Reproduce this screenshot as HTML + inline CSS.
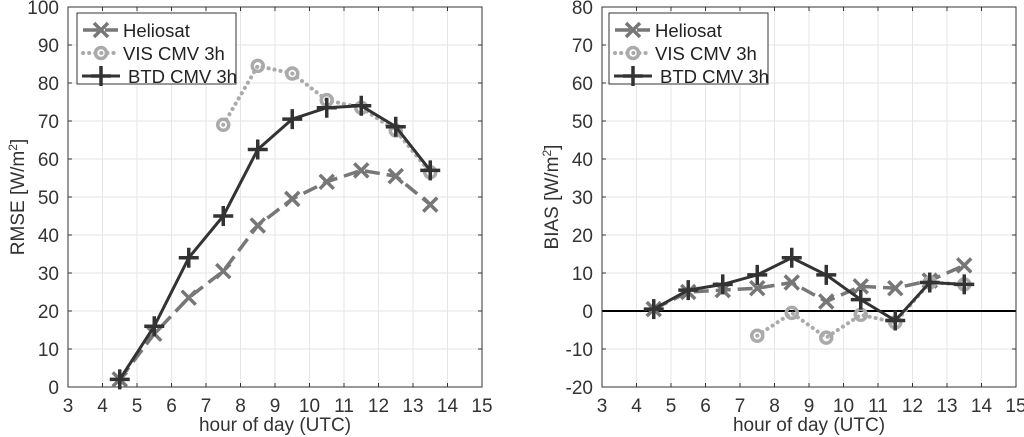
<!DOCTYPE html>
<html><head><meta charset="utf-8"><style>
html,body{margin:0;padding:0;background:#fff;}
svg{display:block;font-family:"Liberation Sans",Arial,sans-serif;}
</style></head><body>
<svg id="c" width="1024" height="437"></svg>
<script>
const hours=[4.5,5.5,6.5,7.5,8.5,9.5,10.5,11.5,12.5,13.5];
const visHours=[7.5,8.5,9.5,10.5,11.5,12.5,13.5];
const rmseHelio=[2,14,23.5,30.5,42.5,49.5,54,57,55.5,48];
const rmseVis=[69,84.5,82.5,75.5,73.5,67.5,56.5];
const rmseBtd=[2,16,34,45,62.5,70.5,73.5,74,68.5,57];
const biasHelio=[0.5,5,5.5,6,7.5,2.5,6.5,6,8,12];
const biasVis=[-6.5,-0.5,-7,-1,-3,7.5,7];
const biasBtd=[0.5,5.5,7,9.5,14,9.5,3,-2.5,7.5,7];
const xTicks=[3,4,5,6,7,8,9,10,11,12,13,14,15];
const rmseTicks=[0,10,20,30,40,50,60,70,80,90,100];
const biasTicks=[-20,-10,0,10,20,30,40,50,60,70,80];

const NS="http://www.w3.org/2000/svg";
const svg=document.getElementById('c');
function el(tag,attrs,parent){const e=document.createElementNS(NS,tag);for(const k in attrs)e.setAttribute(k,attrs[k]);(parent||svg).appendChild(e);return e;}
const FS=19;
function panel(name,L,R,T,B,ymin,ymax,yticks,ylabelHtml,series,zeroLine,legX){
  const g=el('g',{});
  
  
  const sx=v=>L+(v-3)/12*(R-L);
  const sy=v=>B-(v-ymin)/(ymax-ymin)*(B-T);
  xTicks.forEach(t=>{
    const l=el('line',{x1:sx(t),x2:sx(t),y1:T,y2:B,stroke:'#e6e6e6','stroke-width':1},g);
    
    el('line',{x1:sx(t),x2:sx(t),y1:B,y2:B-4,stroke:'#333'},g);
    el('line',{x1:sx(t),x2:sx(t),y1:T,y2:T+4,stroke:'#333'},g);
    const tx=el('text',{x:sx(t),y:B+25,'text-anchor':'middle','font-size':FS,fill:'#333'},g);
    tx.textContent=t;
    
  });
  yticks.forEach(t=>{
    const l=el('line',{x1:L,x2:R,y1:sy(t),y2:sy(t),stroke:'#e6e6e6','stroke-width':1},g);
    
    el('line',{x1:L,x2:L+4,y1:sy(t),y2:sy(t),stroke:'#333'},g);
    el('line',{x1:R,x2:R-4,y1:sy(t),y2:sy(t),stroke:'#333'},g);
    const tx=el('text',{x:L-9,y:sy(t)+7,'text-anchor':'end','font-size':FS,fill:'#333'},g);
    tx.textContent=t;
    
  });
  if(zeroLine){const z=el('line',{x1:L,x2:R,y1:sy(0),y2:sy(0),stroke:'#000','stroke-width':2},g);
    }
  const box=el('rect',{x:L,y:T,width:R-L,height:B-T,fill:'none',stroke:'#333','stroke-width':1},g);
  
  const xl=el('text',{x:(L+R)/2,y:B+44,'text-anchor':'middle','font-size':FS,fill:'#333'},g);
  xl.textContent='hour of day (UTC)';
  
  const yl=el('text',{transform:`translate(${L-44},${(T+B)/2}) rotate(-90)`,'text-anchor':'middle','font-size':FS,fill:'#333'},g);
  yl.innerHTML=ylabelHtml;
  

  series.forEach(s=>{
    const sg=el('g',{},g);
    
    const pts=s.x.map((x,i)=>sx(x)+','+sy(s.y[i])).join(' ');
    el('polyline',{points:pts,fill:'none',stroke:s.color,'stroke-width':s.w,'stroke-dasharray':s.dash||'','stroke-linecap':s.cap||'butt'},sg);
    s.x.forEach((x,i)=>drawMarker(sg,s.marker,sx(x),sy(s.y[i]),s.color));
  });
  const lg=el('g',{},g);
  
  el('rect',{x:legX,y:T+6,width:159,height:71,fill:'#fff',stroke:'#333'},lg);
  series.forEach((s,i)=>{
    const y=T+23+i*23;
    const e=el('g',{},lg);
    
    el('line',{x1:legX+(i==2?5:6),x2:legX+(i==2?43:41),y1:y,y2:y,stroke:s.color,'stroke-width':s.w,'stroke-dasharray':s.dash||'','stroke-linecap':s.cap||'butt'},e);
    drawMarker(e,s.marker,legX+24,y,s.color);
    const t=el('text',{x:legX+(i==2?51:46),y:y+7,'font-size':18.5,fill:'#222'},e);
    t.textContent=s.label;
  });
}
function drawMarker(g,m,x,y,c){
  const r=7;
  if(m==='x'){el('path',{d:`M${x-r},${y-r}L${x+r},${y+r}M${x-r},${y+r}L${x+r},${y-r}`,stroke:c,'stroke-width':3.5},g);}
  else if(m==='o'){el('circle',{cx:x,cy:y,r:5.5,fill:'none',stroke:c,'stroke-width':3.5},g);}
  else {el('path',{d:`M${x-10},${y}L${x+10},${y}M${x},${y-10}L${x},${y+10}`,stroke:c,'stroke-width':3.5},g);}
}
function ser(h,v,b){return [
  {name:'heliosat-series',label:'Heliosat',x:hours,y:h,color:'#777',w:3.5,dash:'15 7',marker:'x'},
  {name:'vis-cmv-series',label:'VIS CMV 3h',x:visHours,y:v,color:'#aaa',w:4,dash:'0.1 6',cap:'round',marker:'o'},
  {name:'btd-cmv-series',label:'BTD CMV 3h',x:hours,y:b,color:'#333',w:3,dash:'',marker:'+'}];}
panel('rmse-panel',68,482,7,387,0,100,rmseTicks,'RMSE [W/m<tspan baseline-shift="super" font-size="12">2</tspan>]',ser(rmseHelio,rmseVis,rmseBtd),false,77);
panel('bias-panel',602,1016,7,387,-20,80,biasTicks,'BIAS [W/m<tspan baseline-shift="super" font-size="12">2</tspan>]',ser(biasHelio,biasVis,biasBtd),true,609);
</script>
</body></html>
